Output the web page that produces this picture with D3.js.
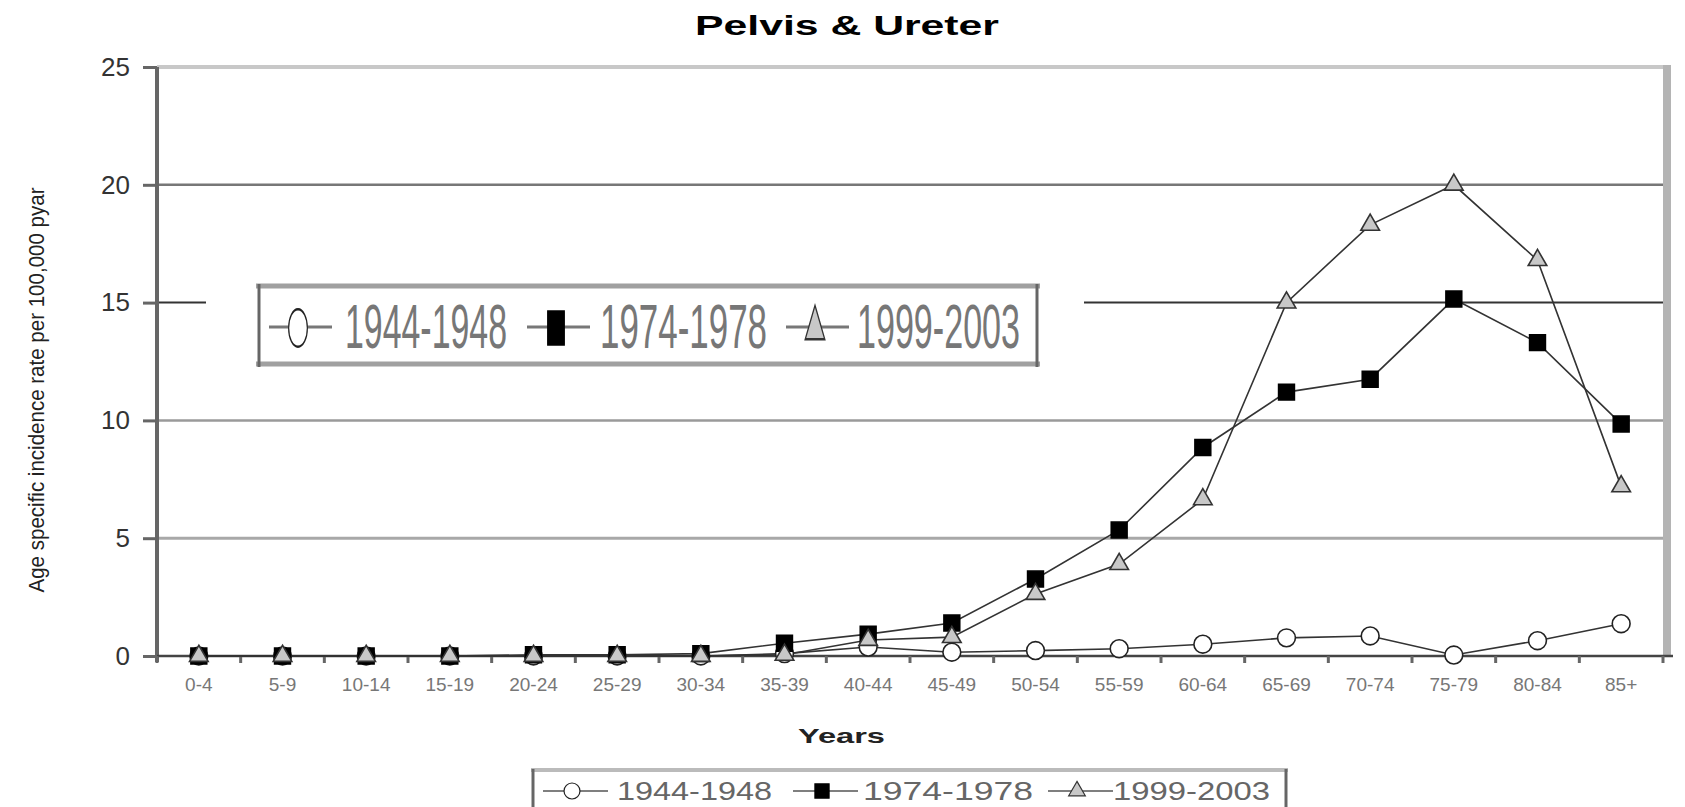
<!DOCTYPE html>
<html>
<head>
<meta charset="utf-8">
<script src="https://cdn.jsdelivr.net/npm/d3@7"></script>
<style>
  body { margin: 0; background: #fff; }
  text { font-family: "Liberation Sans", Arial, sans-serif; }
</style>
</head>
<body>
<div id="chart"></div>
<script>
const ages = ["0-4", "5-9", "10-14", "15-19", "20-24", "25-29", "30-34", "35-39", "40-44",
  "45-49", "50-54", "55-59", "60-64", "65-69", "70-74", "75-79", "80-84", "85+"];

const s1944 = [0, 0, 0, 0, 0, 0, 0, 0.1, 0.38, 0.16, 0.23, 0.31, 0.5, 0.77, 0.85, 0.04, 0.65, 1.37];
const s1974 = [0, 0, 0, 0, 0.05, 0.05, 0.1, 0.54, 0.93, 1.4, 3.27, 5.35, 8.85, 11.2, 11.75, 15.15, 13.3, 9.85];
const s1999 = [0, 0, 0, 0, 0, 0, 0, 0.05, 0.68, 0.8, 2.63, 3.9, 6.65, 15.0, 18.3, 20.0, 16.8, 7.2];

const seriesNames = ["1944-1948", "1974-1978", "1999-2003"];
const yTicks = [0, 5, 10, 15, 20, 25];

const width = 1685;
const height = 807;

const series = [
  {name: seriesNames[0], values: s1944, symbol: d3.symbolCircle},
  {name: seriesNames[1], values: s1974, symbol: d3.symbolSquare},
  {name: seriesNames[2], values: s1999, symbol: d3.symbolTriangle}
];

// marker look per series
const markerStyle = {
  "1944-1948": {fill: "#fff", stroke: "#222", size: 250},
  "1974-1978": {fill: "#000", stroke: "#000", size: 250},
  "1999-2003": {fill: "#c8c8c8", stroke: "#333", size: 150}
};

// gridline look differs per level in the scanned original
const gridStyle = {
  0: {stroke: "none", w: 0},
  5: {stroke: "#a8a8a8", w: 3},
  10: {stroke: "#9a9a9a", w: 2.5},
  15: {stroke: "#333", w: 2},
  20: {stroke: "#777", w: 2.5},
  25: {stroke: "#c8c8c8", w: 4}
};

const svg = d3.select("#chart").append("svg")
  .attr("width", width)
  .attr("height", height);

const x = d3.scaleBand()
  .domain(ages)
  .range([157, 1663]);

const y = d3.scaleLinear()
  .domain([0, 25])
  .range([656, 67]);

// gridlines
svg.append("g")
  .selectAll("line")
  .data(yTicks)
  .join("line")
  .attr("x1", 157)
  .attr("x2", 1667)
  .attr("y1", d => y(d))
  .attr("y2", d => y(d))
  .attr("stroke", d => gridStyle[d].stroke)
  .attr("stroke-width", d => gridStyle[d].w);

// right frame edge
svg.append("line")
  .attr("x1", 1667).attr("x2", 1667)
  .attr("y1", y(25) - 2).attr("y2", y(0))
  .attr("stroke", "#b4b4b4")
  .attr("stroke-width", 8);

// y axis
const yAxis = svg.append("g")
  .attr("transform", "translate(157,0)")
  .call(d3.axisLeft(y).tickValues(yTicks).tickSize(14).tickPadding(13));
yAxis.select(".domain").remove();
yAxis.selectAll(".tick line").attr("stroke", "#666").attr("stroke-width", 3);
yAxis.selectAll(".tick text")
  .attr("font-size", 26)
  .attr("fill", "#333");

svg.append("line")
  .attr("x1", 157).attr("x2", 157)
  .attr("y1", y(25)).attr("y2", y(0) + 6)
  .attr("stroke", "#666")
  .attr("stroke-width", 4);

// x axis
const xAxis = svg.append("g")
  .attr("transform", `translate(0,${y(0)})`)
  .call(d3.axisBottom(x).tickSize(0).tickPadding(22));
xAxis.select(".domain").remove();
xAxis.selectAll(".tick text")
  .attr("font-size", 19)
  .attr("fill", "#777");

svg.append("line")
  .attr("x1", 157).attr("x2", 1673)
  .attr("y1", y(0)).attr("y2", y(0))
  .attr("stroke", "#444")
  .attr("stroke-width", 2.5);

const bounds = ages.map(d => x(d)).concat([x.range()[1]]);
svg.append("g")
  .selectAll("line")
  .data(bounds)
  .join("line")
  .attr("x1", d => d).attr("x2", d => d)
  .attr("y1", y(0)).attr("y2", y(0) + 7)
  .attr("stroke", "#666")
  .attr("stroke-width", 3);

// in-plot legend (white panel breaks the 15 gridline)
const leg = svg.append("g");
leg.append("rect")
  .attr("x", 206).attr("y", 276)
  .attr("width", 1084 - 206).attr("height", 98)
  .attr("fill", "#fff");
leg.append("line").attr("x1", 256).attr("x2", 1040).attr("y1", 286).attr("y2", 286)
  .attr("stroke", "#a0a0a0").attr("stroke-width", 5);
leg.append("line").attr("x1", 256).attr("x2", 1040).attr("y1", 364).attr("y2", 364)
  .attr("stroke", "#a0a0a0").attr("stroke-width", 5);
leg.append("line").attr("x1", 259).attr("x2", 259).attr("y1", 284).attr("y2", 367)
  .attr("stroke", "#666").attr("stroke-width", 3);
leg.append("line").attr("x1", 1037).attr("x2", 1037).attr("y1", 284).attr("y2", 367)
  .attr("stroke", "#666").attr("stroke-width", 3);

const legItems = [
  {cx: 298, tx: 345, tl: 162},
  {cx: 556, tx: 600, tl: 167},
  {cx: 815, tx: 857, tl: 163}
];

series.forEach((s, i) => {
  const it = legItems[i];
  const st = markerStyle[s.name];
  leg.append("line")
    .attr("x1", it.cx - 29).attr("x2", it.cx + 34)
    .attr("y1", 327).attr("y2", 327)
    .attr("stroke", "#777").attr("stroke-width", 3);
  leg.append("path")
    .attr("d", d3.symbol(s.symbol, st.size * 1.1)())
    .attr("transform", `translate(${it.cx},328) scale(1,2)`)
    .attr("fill", st.fill)
    .attr("stroke", st.stroke)
    .attr("stroke-width", 1.2);
  // tall, narrow lettering of the original: small font stretched upward
  leg.append("text")
    .attr("transform", `translate(${it.tx},348) scale(1,2.1)`)
    .attr("font-size", 30)
    .attr("textLength", it.tl)
    .attr("lengthAdjust", "spacingAndGlyphs")
    .attr("fill", "#777")
    .text(s.name);
});

// series lines and markers
const line = d3.line()
  .x((d, i) => x(ages[i]) + x.bandwidth() / 2)
  .y(d => y(d));

series.forEach(s => {
  svg.append("path")
    .datum(s.values)
    .attr("d", line)
    .attr("fill", "none")
    .attr("stroke", "#333")
    .attr("stroke-width", 1.6);
});

series.forEach(s => {
  const st = markerStyle[s.name];
  svg.append("g")
    .selectAll("path")
    .data(s.values)
    .join("path")
    .attr("d", d3.symbol(s.symbol, st.size))
    .attr("transform", (d, i) => `translate(${x(ages[i]) + x.bandwidth() / 2},${y(d)})`)
    .attr("fill", st.fill)
    .attr("stroke", st.stroke)
    .attr("stroke-width", 1.6);
});

// titles
svg.append("text")
  .attr("x", 695).attr("y", 35)
  .attr("font-size", 28)
  .attr("font-weight", "bold")
  .attr("textLength", 304)
  .attr("lengthAdjust", "spacingAndGlyphs")
  .text("Pelvis & Ureter");

svg.append("text")
  .attr("x", 798).attr("y", 743)
  .attr("font-size", 21)
  .attr("font-weight", "bold")
  .attr("textLength", 87)
  .attr("lengthAdjust", "spacingAndGlyphs")
  .attr("fill", "#222")
  .text("Years");

svg.append("text")
  .attr("transform", "translate(44,390) rotate(-90)")
  .attr("text-anchor", "middle")
  .attr("font-size", 22)
  .attr("textLength", 405)
  .attr("lengthAdjust", "spacingAndGlyphs")
  .attr("fill", "#222")
  .text("Age specific incidence rate per 100,000 pyar");

// bottom legend
const leg2 = svg.append("g");
leg2.append("line").attr("x1", 531).attr("x2", 1288).attr("y1", 770).attr("y2", 770)
  .attr("stroke", "#bbb").attr("stroke-width", 4);
leg2.append("line").attr("x1", 533).attr("x2", 533).attr("y1", 769).attr("y2", height)
  .attr("stroke", "#666").attr("stroke-width", 3);
leg2.append("line").attr("x1", 1286).attr("x2", 1286).attr("y1", 769).attr("y2", height)
  .attr("stroke", "#666").attr("stroke-width", 3);

const leg2Items = [
  {cx: 572, tx: 617, tl: 155},
  {cx: 822, tx: 863, tl: 170},
  {cx: 1077, tx: 1113, tl: 157}
];

series.forEach((s, i) => {
  const it = leg2Items[i];
  const st = markerStyle[s.name];
  leg2.append("line")
    .attr("x1", it.cx - 29).attr("x2", it.cx + 36)
    .attr("y1", 791).attr("y2", 791)
    .attr("stroke", "#555").attr("stroke-width", 1.5);
  leg2.append("path")
    .attr("d", d3.symbol(s.symbol, st.size * 0.8)())
    .attr("transform", `translate(${it.cx},791)`)
    .attr("fill", st.fill)
    .attr("stroke", st.stroke)
    .attr("stroke-width", 1.2);
  leg2.append("text")
    .attr("x", it.tx).attr("y", 800)
    .attr("font-size", 25)
    .attr("textLength", it.tl)
    .attr("lengthAdjust", "spacingAndGlyphs")
    .attr("fill", "#666")
    .text(s.name);
});
</script>
</body>
</html>
